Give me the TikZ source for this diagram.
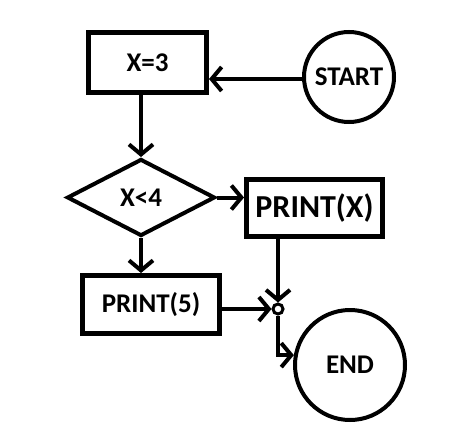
\documentclass[tikz,border=0pt]{standalone}
\usepackage{fontspec}
\setmainfont{Carlito}
\usetikzlibrary{arrows.meta,shapes.geometric}
\tikzset{
  boxnode/.style={draw, line width=5pt, inner sep=0pt, font=\bfseries\fontsize{27}{31}\selectfont},
  circnode/.style={draw, circle, line width=4pt, inner sep=0pt, font=\bfseries\fontsize{27}{31}\selectfont},
  dianode/.style={draw, diamond, line width=4pt, inner sep=0pt, minimum width=148pt, minimum height=77pt, font=\bfseries\fontsize{27}{31}\selectfont},
  conn/.style={line width=4pt},
  arr/.style={conn, -{Straight Barb[length=10pt,width=24pt]}},
}
\begin{document}
\begin{tikzpicture}[x=1pt,y=-1pt]
\useasboundingbox (0,0) rectangle (449,439);
\fill[white] (0,0) rectangle (449,439);
\node[boxnode, minimum width=118pt, minimum height=60pt] (x3) at (147.5,62.5) {X=3};
\node[circnode, minimum size=90pt] (start) at (349,77) {START};
\node[dianode] (dia) at (141,197.5) {X<4};
\node[boxnode, minimum width=136pt, minimum height=57pt, font=\bfseries\fontsize{32}{37}\selectfont] (px) at (314.5,208) {PRINT(X)};
\node[boxnode, minimum width=137pt, minimum height=58pt] (p5) at (151,304.5) {PRINT(5)};
\node[circnode, minimum size=110pt] (end) at (350,365) {END};
\node[draw, circle, line width=3pt, minimum size=10pt, inner sep=0pt] (j) at (278,309) {};
\draw[arr] (start.west |- 0,79) -- (x3.east |- 0,79);
\draw[arr] (dia.north |- x3.south) -- (dia.north);
\draw[arr] (dia.east) -- (dia.east -| px.west);
\draw[arr] (dia.south) -- (dia.south |- p5.north);
\draw[arr] (px.south -| j) -- (j.north);
\draw[arr] (p5.east |- j) -- (j.west);
\draw[arr] (j.south) |- (end.170);
\end{tikzpicture}
\end{document}
